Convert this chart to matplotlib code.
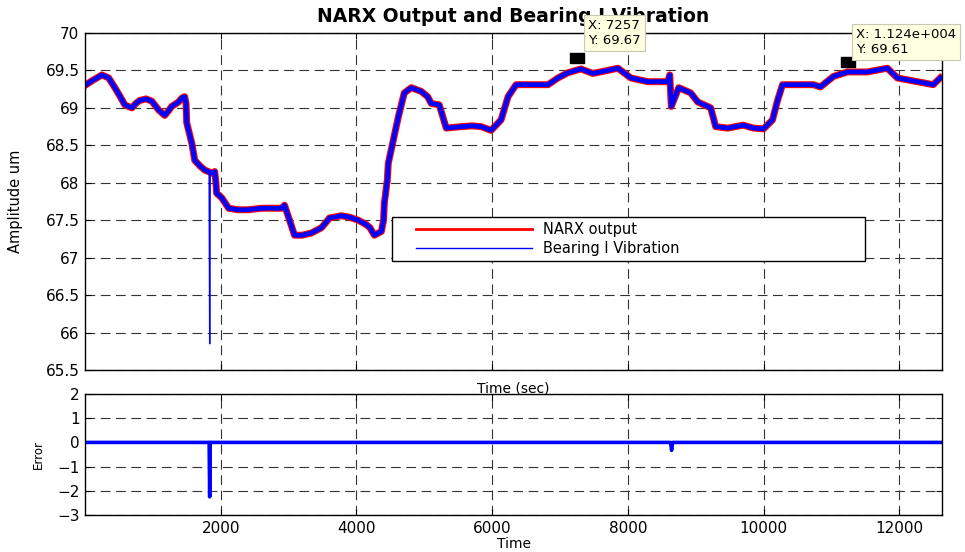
import matplotlib
matplotlib.use("Agg")
import matplotlib.pyplot as plt
from matplotlib.lines import Line2D
from matplotlib.patches import Rectangle
from matplotlib.ticker import FormatStrFormatter

plt.rcParams['font.family'] = ['DejaVu Sans']
plt.rcParams['lines.scale_dashes'] = False

# time axis (sec) and NARX output level
time = [1, 100, 250, 350, 441, 520, 588, 691, 750, 809, 900, 985, 1088, 1176,
        1230, 1279, 1380, 1426, 1470, 1490, 1500, 1574, 1618, 1700, 1765, 1868,
        1912, 1930, 1941, 2015, 2118, 2250, 2412, 2600, 2800, 2897, 2941, 3015,
        3088, 3200, 3338, 3485, 3560, 3603, 3779, 3900, 4029, 4147, 4200, 4265,
        4368, 4400, 4412, 4456, 4470, 4544, 4618, 4706, 4809, 4956, 5050, 5103,
        5221, 5324, 5544, 5700, 5838, 5985, 6132, 6235, 6353, 6600, 6824, 6971,
        7118, 7309, 7485, 7700, 7853, 8044, 8294, 8588, 8618, 8640, 8750, 8926,
        9029, 9221, 9294, 9471, 9700, 9850, 10000, 10132, 10206, 10279, 10500,
        10735, 10838, 11029, 11235, 11529, 11824, 11971, 12265, 12500, 12603]
narx = [69.30, 69.36, 69.44, 69.40, 69.27, 69.15, 69.04, 69.00, 69.06, 69.10,
        69.12, 69.09, 68.97, 68.90, 68.96, 69.02, 69.08, 69.13, 69.15, 69.05,
        68.80, 68.53, 68.30, 68.22, 68.17, 68.13, 68.15, 68.00, 67.86, 67.80,
        67.66, 67.64, 67.64, 67.66, 67.66, 67.66, 67.70, 67.50, 67.30, 67.30,
        67.33, 67.40, 67.48, 67.53, 67.56, 67.54, 67.50, 67.44, 67.40, 67.30,
        67.35, 67.50, 67.73, 68.04, 68.26, 68.57, 68.88, 69.20, 69.27, 69.22,
        69.15, 69.06, 69.04, 68.73, 68.75, 68.76, 68.75, 68.70, 68.84, 69.15,
        69.31, 69.31, 69.31, 69.40, 69.47, 69.52, 69.46, 69.50, 69.53, 69.40,
        69.35, 69.35, 69.44, 69.02, 69.27, 69.20, 69.08, 69.00, 68.75, 68.73,
        68.77, 68.73, 68.72, 68.84, 69.10, 69.31, 69.31, 69.31, 69.28, 69.42,
        69.48, 69.48, 69.53, 69.40, 69.35, 69.31, 69.40]
vibration = narx

# single-sample drop in the measured vibration
spike_time = [1830, 1838, 1846]
spike_amp = [68.15, 65.85, 68.15]

# prediction error
err_time = [1, 1830, 1838, 1846, 8630, 8645, 8660, 12630]
err_val = [0.0, 0.0, -2.25, 0.0, 0.0, -0.33, 0.0, 0.0]

# data tips
tip_x = [7257, 11240]
tip_y = [69.67, 69.61]
tip_text = ["X: 7257\nY: 69.67", "X: 1.124e+004\nY: 69.61"]
tip_offset = [(11, 11), (8, 6)]

fig = plt.figure(figsize=(9.65, 5.52), dpi=100)
ax1 = fig.add_axes([0.0881, 0.3297, 0.8881, 0.6105])
ax2 = fig.add_axes([0.0881, 0.0670, 0.8881, 0.2192])

ax1.plot(time, narx, color='#ff0000', lw=5.0, solid_joinstyle='round')
ax1.plot(time, vibration, color='#0000ff', lw=3.4, solid_joinstyle='round')
ax1.plot(spike_time, spike_amp, color='#0000ff', lw=1.0)

tip_marker = [(-1.5, -1), (1.5, -1), (1.5, 1), (-1.5, 1), (-1.5, -1)]
for x, y, s, off in zip(tip_x, tip_y, tip_text, tip_offset):
    ax1.plot([x], [y], marker=tip_marker, color='black', ms=10, zorder=6)
    ax1.annotate(s, xy=(x, y), xytext=off, textcoords='offset pixels',
                 ha='left', va='bottom', fontsize=9.5, annotation_clip=False,
                 bbox=dict(boxstyle='square,pad=0.3', fc='#ffffe1', ec='#c8c8b4', lw=0.8),
                 zorder=7)

ax2.plot(err_time, err_val, color='#0000ff', lw=2.6)

dash = (0, (7, 4))
for ax in (ax1, ax2):
    ax.set_xlim(1, 12630)
    ax.set_xticks([2000, 4000, 6000, 8000, 10000, 12000])
    ax.grid(True, color='#333333', lw=0.8, linestyle=dash)
    ax.tick_params(direction='in', length=4, width=0.8, top=True, right=True,
                   labelsize=11, pad=4)
    for sp in ax.spines.values():
        sp.set_linewidth(1.0)

ax1.set_ylim(65.5, 70)
ax1.set_yticks([65.5, 66, 66.5, 67, 67.5, 68, 68.5, 69, 69.5, 70])
ax1.yaxis.set_major_formatter(FormatStrFormatter('%g'))
ax1.tick_params(labelbottom=False)
ax1.set_title('NARX Output and Bearing I Vibration', fontsize=13.5,
              fontweight='bold', pad=8)
ax1.set_ylabel('Amplitude um', fontsize=10.5)
ax1.yaxis.set_label_coords(-0.072, 0.5)
ax1.set_xlabel('Time (sec)', fontsize=10, labelpad=8)

ax1.add_patch(Rectangle((0.358, 0.323), 0.552, 0.131, transform=ax1.transAxes,
                        fc='white', ec='black', lw=1.0, zorder=4))
handles = [Line2D([], [], color='#ff0000', lw=2.0),
           Line2D([], [], color='#0000ff', lw=1.0)]
ax1.legend(handles, ['NARX output', 'Bearing I Vibration'], loc='upper left',
           bbox_to_anchor=(0.386, 0.438), frameon=False, borderpad=0,
           borderaxespad=0, handlelength=8, handletextpad=0.75,
           labelspacing=0.25, fontsize=10.5).set_zorder(5)

ax2.set_ylim(-3, 2)
ax2.set_yticks([-3, -2, -1, 0, 1, 2])
ax2.set_ylabel('Error', fontsize=8.5)
ax2.yaxis.set_label_coords(-0.0467, 0.5)
ax2.set_xlabel('Time', fontsize=10, labelpad=1)

fig.savefig('out.png', dpi=100)
